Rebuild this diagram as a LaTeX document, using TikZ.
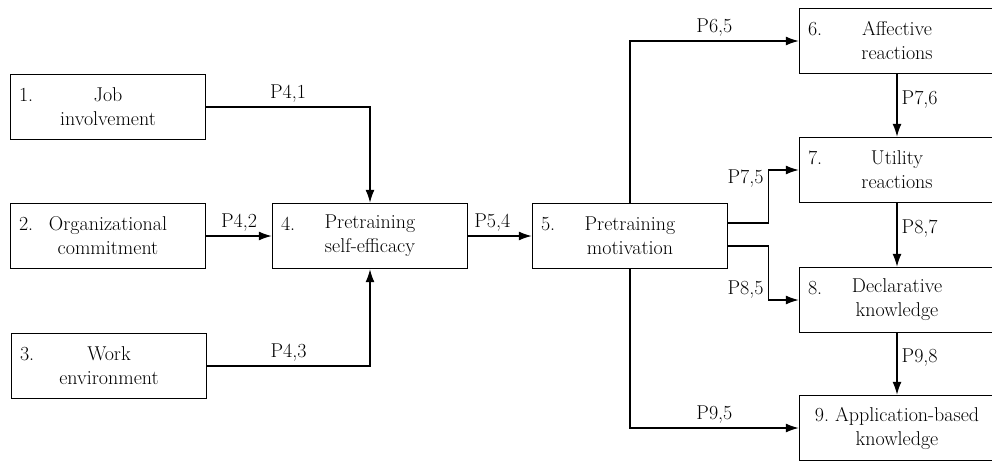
\documentclass[tikz,border=0pt]{standalone}
\usepackage{fontspec}
\usetikzlibrary{arrows.meta}

\begin{document}
\begin{tikzpicture}[x=1pt, y=-1pt,
  box/.style={draw, line width=1.4pt, minimum width=195pt, minimum height=65pt, inner sep=0pt, align=center, font=\fontsize{20}{24}\selectfont},
  numlbl/.style={anchor=base west, inner sep=0pt, xshift=9pt, yshift=-28pt, font=\fontsize{20}{24}\selectfont},
  plbl/.style={font=\fontsize{20}{24}\selectfont, inner sep=4pt},
  arr/.style={-{Latex[length=13pt, width=9pt]}, line width=1.4pt}
]
\useasboundingbox (0,0) rectangle (992,461);
\clip (0,0) rectangle (992,461);
\node[box] (b1) at (108,107) {Job\\involvement};
\node[box] (b2) at (108,236) {Organizational\\commitment};
\node[box] (b3) at (109,366) {Work\\environment};
\node[box] (b4) at (370,236) {Pretraining\\self-efficacy};
\node[box] (b5) at (630,236) {Pretraining\\motivation};
\node[box] (b6) at (897,41) {Affective\\reactions};
\node[box] (b7) at (897,170) {Utility\\reactions};
\node[box] (b8) at (897,300) {Declarative\\knowledge};
\node[box] (b9) at (897,428) {9.~Application-based\\knowledge};
\foreach \idx in {1,...,8}{
  \node[numlbl] (n\idx) at (b\idx.north west) {\idx.};
}
\draw[arr] (b1.east) -| node[plbl, pos=0.25, above] {P4,1} (b4.north);
\draw[arr] (b2.east) -- node[plbl, above] {P4,2} (b4.west);
\draw[arr] (b3.east) -| node[plbl, pos=0.25, above] {P4,3} (b4.south);
\draw[arr] (b4.east) -- node[plbl, pos=0.38, above] {P5,4} (b5.west);
\draw[arr] (b5.north) |- node[plbl, pos=0.75, above] {P6,5} (b6.west);
\draw[arr] ([yshift=13pt]b5.east) -- ++(40,0) |- node[plbl, pos=0.42, left] {P7,5} (b7.west);
\draw[arr] ([yshift=-10pt]b5.east) -- ++(40,0) |- node[plbl, pos=0.4, left] {P8,5} (b8.west);
\draw[arr] (b5.south) |- node[plbl, pos=0.75, above] {P9,5} (b9.west);
\foreach \src/\dst in {6/7, 7/8, 8/9}{
  \draw[arr] (b\src.south) -- node[plbl, pos=0.4, right] {P\dst,\src} (b\dst.north);
}
\end{tikzpicture}
\end{document}
